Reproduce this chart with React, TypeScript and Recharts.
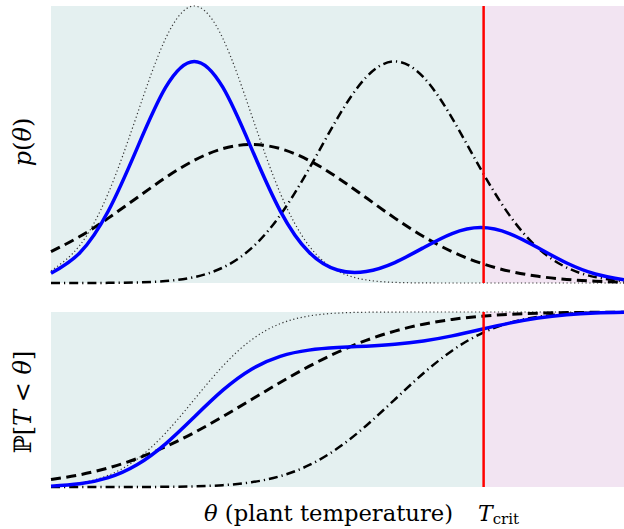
import { LineChart, Line, XAxis, YAxis, ReferenceArea, ReferenceLine } from "recharts"

// plant temperature grid (arbitrary units, plot spans 0..10)
const theta = [0, 0.5, 1, 1.5, 2, 2.5, 3, 3.5, 4, 4.5, 5, 5.5, 6, 6.5, 7, 7.5, 8, 8.5, 9, 9.5, 10]
const tCrit = 7.55

// densities (top panel), scaled so the narrow one peaks at 1
const pdfPosterior = [0.0351, 0.1083, 0.2598, 0.4852, 0.706, 0.8, 0.706, 0.4852, 0.2606, 0.1117, 0.0469, 0.0415, 0.0739, 0.1273, 0.1786, 0.2, 0.1786, 0.1271, 0.0721, 0.0326, 0.0118]
const pdfNarrow = [0.0439, 0.1353, 0.3247, 0.6065, 0.8825, 1, 0.8825, 0.6065, 0.3247, 0.1353, 0.0439, 0.0111, 0.0022, 0.0003, 0, 0, 0, 0, 0, 0, 0]
const pdfWide = [0.1131, 0.1677, 0.2342, 0.3077, 0.3805, 0.4429, 0.4851, 0.5, 0.4851, 0.4429, 0.3805, 0.3077, 0.2342, 0.1677, 0.1131, 0.0718, 0.0428, 0.0241, 0.0127, 0.0063, 0.003]
const pdfShifted = [0, 0.0001, 0.0005, 0.002, 0.007, 0.0213, 0.0558, 0.1259, 0.245, 0.4111, 0.5951, 0.743, 0.8, 0.743, 0.5951, 0.4111, 0.245, 0.1259, 0.0558, 0.0213, 0.007]

// cumulative probabilities (bottom panel)
const cdfPosterior = [0.005, 0.0182, 0.0534, 0.127, 0.2468, 0.4, 0.5532, 0.673, 0.7467, 0.7822, 0.7967, 0.8047, 0.8151, 0.8341, 0.8634, 0.9, 0.9366, 0.9659, 0.9847, 0.9943, 0.9983]
const cdfNarrow = [0.0062, 0.0228, 0.0668, 0.1587, 0.3085, 0.5, 0.6915, 0.8413, 0.9332, 0.9772, 0.9938, 0.9987, 0.9998, 1, 1, 1, 1, 1, 1, 1, 1]
const cdfWide = [0.0424, 0.0697, 0.109, 0.1623, 0.23, 0.3111, 0.4028, 0.5, 0.5972, 0.6889, 0.77, 0.8377, 0.891, 0.9303, 0.9576, 0.9756, 0.9867, 0.9931, 0.9966, 0.9984, 0.9993]
const cdfShifted = [0, 0, 0.0001, 0.0003, 0.001, 0.0036, 0.0105, 0.0272, 0.062, 0.1243, 0.2209, 0.3502, 0.5, 0.6498, 0.7791, 0.8757, 0.938, 0.9728, 0.9895, 0.9964, 0.999]

const pdfRows = theta.map((t, i) => ({
  theta: t,
  posterior: pdfPosterior[i],
  narrow: pdfNarrow[i],
  wide: pdfWide[i],
  shifted: pdfShifted[i],
}))

const cdfRows = theta.map((t, i) => ({
  theta: t,
  posterior: cdfPosterior[i],
  narrow: cdfNarrow[i],
  wide: cdfWide[i],
  shifted: cdfShifted[i],
}))

const TEAL = "#e4f0f0"
const PINK = "#f2e4f2"
const SERIF = "'DejaVu Serif', 'Liberation Serif', serif"

function Panel({ data, height, margin }: { data: any[]; height: number; margin: any }) {
  return (
    <LineChart width={624} height={height} data={data} margin={margin}>
      <XAxis type="number" dataKey="theta" domain={[0, 10]} hide />
      <YAxis type="number" domain={[0, 1]} hide />
      <ReferenceArea x1={0} x2={tCrit} y1={0} y2={1} fill={TEAL} fillOpacity={1} stroke="none" />
      <ReferenceArea x1={tCrit} x2={10} y1={0} y2={1} fill={PINK} fillOpacity={1} stroke="none" />
      <Line type="natural" dataKey="narrow" stroke="#333" strokeWidth={1.2} strokeDasharray="1.2 2.6" dot={false} isAnimationActive={false} />
      <Line type="natural" dataKey="wide" stroke="#000" strokeWidth={3} strokeDasharray="10 5.5" dot={false} isAnimationActive={false} />
      <Line type="natural" dataKey="shifted" stroke="#000" strokeWidth={2.5} strokeDasharray="9 4 1.2 4" dot={false} isAnimationActive={false} />
      <Line type="natural" dataKey="posterior" stroke="#0000ff" strokeWidth={3.5} dot={false} isAnimationActive={false} />
      <ReferenceLine x={tCrit} stroke="#ff0000" strokeWidth={2.5} />
    </LineChart>
  )
}

export default function App() {
  return (
    <div style={{ position: "absolute", left: 0, top: 0, width: 624, height: 529, background: "#fff" }}>
      <div style={{ position: "absolute", left: 0, top: 0 }}>
        <Panel data={pdfRows} height={290} margin={{ top: 6, right: 0, bottom: 7, left: 51 }} />
      </div>
      <div style={{ position: "absolute", left: 0, top: 290 }}>
        <Panel data={cdfRows} height={239} margin={{ top: 22, right: 0, bottom: 42, left: 51 }} />
      </div>
      {/* axis labels */}
      <svg width={624} height={529} style={{ position: "absolute", left: 0, top: 0, pointerEvents: "none" }}>
        <text transform="translate(31,142) rotate(-90)" textAnchor="middle" fontFamily={SERIF} fontSize={24} fill="#000">
          <tspan fontStyle="italic">p</tspan>(<tspan fontStyle="italic">θ</tspan>)
        </text>
        <text transform="translate(31,402) rotate(-90)" textAnchor="middle" fontFamily={SERIF} fontSize={24} fill="#000">
          ℙ[<tspan fontStyle="italic">T</tspan> &lt; <tspan fontStyle="italic">θ</tspan>]
        </text>
        <text x={204} y={521} fontFamily={SERIF} fontSize={22} fill="#000" textLength={249} lengthAdjust="spacingAndGlyphs">
          <tspan fontStyle="italic">θ</tspan> (plant temperature)
        </text>
        <text x={478} y={521} fontFamily={SERIF} fontSize={22} fill="#000">
          <tspan fontStyle="italic">T</tspan>
          <tspan fontSize={15} dy={3}>crit</tspan>
        </text>
      </svg>
    </div>
  )
}
